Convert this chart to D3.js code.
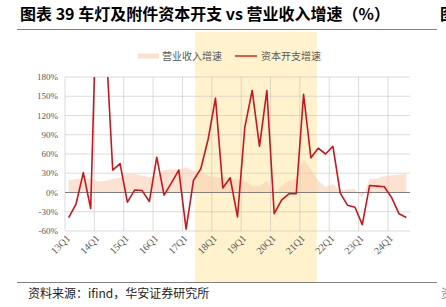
<!DOCTYPE html>
<html>
<head>
<meta charset="utf-8">
<script src="https://cdn.jsdelivr.net/npm/d3@7/dist/d3.min.js"></script>
<style>
body { margin: 0; background: #fff; }
svg { display: block; }
</style>
</head>
<body>
<div id="chart"></div>
<script>
var width = 446, height = 307;

// quarters 13Q1 .. 24Q3
var quarters = [];
for (var yr = 13; yr <= 24; yr++) {
    for (var q = 1; q <= 4; q++) {
        if (yr === 24 && q === 4) break;
        quarters.push(yr + "Q" + q);
    }
}

// 营业收入增速 (%)
var revenueGrowth = [19, 21, 22, 22, 17, 18, 21, 23, 29, 29, 26, 24,
    26, 35, 36, 36, 39, 34, 31, 26, 23, 24, 21, 21,
    18, 10, 10, 18, -1, 10, 18, 21, 52, 36, 18, 9,
    13, 3, 5, 5, -8, 21, 22, 25, 27, 28, 29];

// 资本开支增速 (%)
var capexGrowth = [-39, -18, 31, -25, 385, 250, 35, 45, -15, 4, 3, -14,
    55, -4, 15, 35, -57, 19, 37, 83, 147, 7, 23, -38,
    102, 159, 72, 159, -33, -12, -2, -2, 153, 54, 69, 60,
    72, -1, -20, -23, -50, 11, 10, 9, -8, -33, -39];

var yTicks = [-60, -30, 0, 30, 60, 90, 120, 150, 180];
var highlight = [17.7, 34.3]; // 类别位置

var margin = {left: 65, right: 36, top: 77, bottom: 76};

var svg = d3.select("#chart").append("svg").attr("width", width).attr("height", height);

var x = d3.scaleBand().domain(quarters).range([margin.left, width - margin.right]);
var xPos = d3.scaleLinear().domain([0, quarters.length]).range([margin.left, width - margin.right]);
var y = d3.scaleLinear().domain([-60, 180]).range([height - margin.bottom, margin.top]);

var cx = function (i) { return x(quarters[i]) + x.bandwidth() / 2; };

// highlight band
svg.append("rect")
    .attr("x", xPos(highlight[0])).attr("width", xPos(highlight[1]) - xPos(highlight[0]))
    .attr("y", 32).attr("height", 250)
    .attr("fill", "#fff2cc");

// title
svg.append("text").attr("x", 20).attr("y", 20)
    .attr("font-family", "'Noto Sans CJK SC', sans-serif").attr("font-weight", "bold")
    .attr("font-size", 16).attr("fill", "#000")
    .text("图表 39 车灯及附件资本开支 vs 营业收入增速（%）");
svg.append("text").attr("x", 440).attr("y", 20)
    .attr("font-family", "'Noto Sans CJK SC', sans-serif").attr("font-weight", "bold")
    .attr("font-size", 16).attr("fill", "#000").text("图");
svg.append("line").attr("x1", 17).attr("x2", 437).attr("y1", 29.5).attr("y2", 29.5)
    .attr("stroke", "#7f7f7f").attr("stroke-width", 1.2);
svg.append("line").attr("x1", 17).attr("x2", 437).attr("y1", 282.5).attr("y2", 282.5)
    .attr("stroke", "#7f7f7f").attr("stroke-width", 1.2);
svg.append("text").attr("x", 28).attr("y", 298)
    .attr("font-family", "'Noto Sans CJK SC', sans-serif")
    .attr("font-size", 12).attr("fill", "#222")
    .text("资料来源：ifind，华安证券研究所");
svg.append("text").attr("x", 441).attr("y", 298)
    .attr("font-family", "'Noto Sans CJK SC', sans-serif")
    .attr("font-size", 12).attr("fill", "#888").text("资");

// grid
var grid = svg.append("g").attr("class", "grid");
grid.selectAll("line.h").data(yTicks).enter().append("line")
    .attr("x1", margin.left).attr("x2", width - margin.right)
    .attr("y1", function (d) { return y(d); }).attr("y2", function (d) { return y(d); })
    .attr("stroke", "#bfbfbf").attr("stroke-opacity", 0.55).attr("stroke-width", 1);
var vIdx = d3.range(0, quarters.length, 4);
grid.selectAll("line.v").data(vIdx).enter().append("line")
    .attr("x1", function (i) { return x(quarters[i]); }).attr("x2", function (i) { return x(quarters[i]); })
    .attr("y1", y(180)).attr("y2", y(-60))
    .attr("stroke", "#bfbfbf").attr("stroke-opacity", 0.55).attr("stroke-width", 1);

// y labels
svg.append("g").selectAll("text").data(yTicks).enter().append("text")
    .attr("x", 58).attr("y", function (d) { return y(d) + 3; })
    .attr("text-anchor", "end")
    .attr("font-family", "'Liberation Serif', serif").attr("font-size", 9)
    .attr("fill", "#595959")
    .text(function (d) { return d + "%"; });

// x labels
svg.append("g").selectAll("text").data(vIdx).enter().append("text")
    .attr("transform", function (i) { return "translate(" + (cx(i) + 2) + "," + 239 + ") rotate(-45)"; })
    .attr("text-anchor", "end")
    .attr("font-family", "'Liberation Serif', serif").attr("font-size", 10)
    .attr("fill", "#595959")
    .text(function (i) { return quarters[i]; });

// clip
svg.append("clipPath").attr("id", "plot").append("rect")
    .attr("x", margin.left).attr("y", y(180))
    .attr("width", width - margin.right - margin.left).attr("height", y(-60) - y(180));

// revenue area
var area = d3.area()
    .x(function (d, i) { return cx(i); })
    .y0(y(0))
    .y1(function (d) { return y(d); });
svg.append("path").datum(revenueGrowth)
    .attr("d", area).attr("fill", "#f8cbad").attr("fill-opacity", 0.55);

// zero line
svg.append("line").attr("x1", margin.left).attr("x2", width - margin.right)
    .attr("y1", y(0)).attr("y2", y(0)).attr("stroke", "#808080").attr("stroke-width", 1);

// capex line
var line = d3.line()
    .x(function (d, i) { return cx(i); })
    .y(function (d) { return y(d); });
svg.append("path").datum(capexGrowth)
    .attr("clip-path", "url(#plot)")
    .attr("d", line).attr("fill", "none")
    .attr("stroke", "#c9161c").attr("stroke-width", 1.6).attr("stroke-linejoin", "round");

// legend
var legend = svg.append("g");
legend.append("rect").attr("x", 138).attr("y", 53.5).attr("width", 21).attr("height", 5)
    .attr("fill", "#f8cbad").attr("fill-opacity", 0.6);
legend.append("text").attr("x", 162).attr("y", 60)
    .attr("font-family", "'Noto Sans CJK SC', sans-serif").attr("font-size", 10)
    .attr("fill", "#595959").text("营业收入增速");
legend.append("line").attr("x1", 235).attr("x2", 257).attr("y1", 56).attr("y2", 56)
    .attr("stroke", "#e0301e").attr("stroke-width", 1.6);
legend.append("text").attr("x", 261).attr("y", 60)
    .attr("font-family", "'Noto Sans CJK SC', sans-serif").attr("font-size", 10)
    .attr("fill", "#595959").text("资本开支增速");
</script>
</body>
</html>
